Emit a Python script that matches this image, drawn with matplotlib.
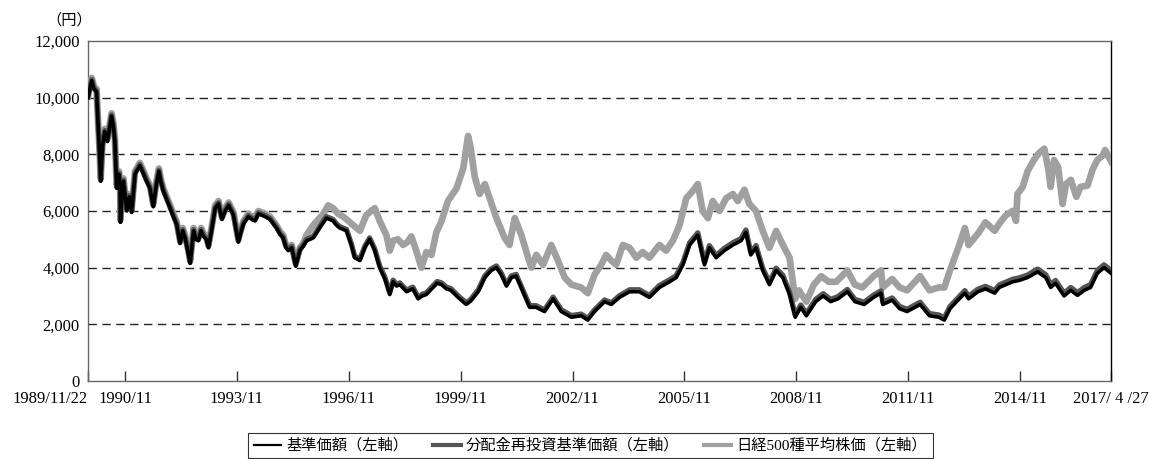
import matplotlib
matplotlib.use("Agg")
import matplotlib.pyplot as plt
from matplotlib.lines import Line2D

plt.rcParams['font.family'] = ['Liberation Serif', 'Noto Sans CJK JP']

# 基準価額 / 分配金再投資基準価額 (same dates, decimal years)
nav_years = [1989.89, 1989.99, 1990.05, 1990.12, 1990.16, 1990.20, 1990.23, 1990.28, 1990.34, 1990.41,
             1990.52, 1990.57, 1990.61, 1990.66, 1990.72, 1990.75, 1990.76, 1990.80, 1990.84, 1990.93,
             1991.00, 1991.06, 1991.15, 1991.28, 1991.38, 1991.46, 1991.55, 1991.60, 1991.64, 1991.72,
             1991.79, 1991.85, 1991.91, 1992.00, 1992.09, 1992.18, 1992.27, 1992.36, 1992.43, 1992.49,
             1992.55, 1992.63, 1992.72, 1992.78, 1992.85, 1992.92, 1992.99, 1993.06, 1993.12, 1993.20,
             1993.30, 1993.39, 1993.48, 1993.57, 1993.66, 1993.79, 1993.92, 1994.00, 1994.06, 1994.19,
             1994.28, 1994.37, 1994.46, 1994.55, 1994.64, 1994.77, 1994.94, 1995.05, 1995.12, 1995.20,
             1995.26, 1995.35, 1995.46, 1995.57, 1995.66, 1995.75, 1995.93, 1996.10, 1996.28, 1996.37,
             1996.46, 1996.55, 1996.64, 1996.82, 1996.95, 1997.04, 1997.18, 1997.31, 1997.44, 1997.58,
             1997.71, 1997.85, 1997.98, 1998.07, 1998.16, 1998.25, 1998.43, 1998.60, 1998.74, 1998.85,
             1998.96, 1999.14, 1999.25, 1999.37, 1999.50, 1999.62, 1999.81, 2000.03, 2000.15, 2000.35,
             2000.53, 2000.70, 2000.84, 2000.97, 2001.11, 2001.24, 2001.37, 2001.55, 2001.73, 2001.90,
             2002.13, 2002.36, 2002.58, 2002.85, 2003.11, 2003.29, 2003.47, 2003.74, 2003.92, 2004.14,
             2004.41, 2004.67, 2004.94, 2005.21, 2005.48, 2005.66, 2005.84, 2006.02, 2006.24, 2006.42,
             2006.55, 2006.73, 2006.95, 2007.18, 2007.40, 2007.53, 2007.66, 2007.80, 2007.98, 2008.16,
             2008.34, 2008.52, 2008.70, 2008.85, 2009.00, 2009.15, 2009.40, 2009.60, 2009.80, 2010.00,
             2010.25, 2010.45, 2010.70, 2010.95, 2011.15, 2011.20, 2011.45, 2011.65, 2011.85, 2012.20,
             2012.45, 2012.70, 2012.85, 2013.00, 2013.25, 2013.40, 2013.50, 2013.75, 2013.95, 2014.20,
             2014.32, 2014.50, 2014.68, 2014.86, 2015.08, 2015.35, 2015.57, 2015.70, 2015.83, 2016.06,
             2016.24, 2016.42, 2016.60, 2016.77, 2016.95, 2017.13, 2017.32]

nav = [10000, 10600, 10300, 10200, 9050, 8000, 7050, 8300, 8800, 8450,
       9350, 9000, 8450, 6800, 7300, 6900, 5600, 6500, 7050, 6000,
       6500, 5950, 7300, 7600, 7300, 7050, 6800, 6450, 6150, 6900,
       7400, 7000, 6700, 6400, 6100, 5800, 5500, 4850, 5300, 5050,
       4700, 4150, 5300, 5000, 4950, 5300, 5100, 5000, 4700, 5300,
       6100, 6250, 5700, 6000, 6200, 5850, 4900, 5300, 5550, 5800,
       5700, 5650, 5900, 5850, 5800, 5700, 5400, 5150, 5050, 4700,
       4600, 4700, 4050, 4600, 4750, 4950, 5050, 5400, 5750, 5700,
       5650, 5500, 5400, 5300, 4800, 4350, 4250, 4700, 5000, 4600,
       4000, 3600, 3050, 3500, 3350, 3400, 3150, 3250, 2900, 3000,
       3050, 3300, 3450, 3400, 3250, 3200, 2950, 2700, 2820, 3150,
       3650, 3900, 4000, 3750, 3350, 3650, 3700, 3150, 2600, 2600,
       2450, 2900, 2450, 2250, 2300, 2150, 2450, 2800, 2700, 2950,
       3150, 3150, 2950, 3300, 3500, 3650, 4100, 4800, 5150, 4100,
       4700, 4350, 4600, 4800, 4950, 5250, 4450, 4700, 3900, 3400,
       3900, 3650, 3050, 2250, 2600, 2300, 2800, 3000, 2800, 2900,
       3150, 2800, 2700, 2950, 3100, 2700, 2850, 2550, 2450, 2700,
       2300, 2250, 2150, 2550, 2900, 3100, 2900, 3150, 3250, 3100,
       3300, 3400, 3500, 3550, 3650, 3850, 3650, 3300, 3450, 3000,
       3200, 3020, 3200, 3300, 3800, 4000, 3800]

nav_reinvest = [10040, 10640, 10340, 10240, 9090, 8040, 7090, 8340, 8840, 8490,
                9390, 9040, 8490, 6840, 7340, 6940, 5640, 6540, 7090, 6040,
                6540, 5990, 7340, 7640, 7340, 7090, 6840, 6490, 6190, 6940,
                7440, 7040, 6740, 6440, 6140, 5840, 5540, 4890, 5340, 5090,
                4740, 4190, 5340, 5040, 4990, 5340, 5140, 5040, 4740, 5340,
                6140, 6290, 5740, 6040, 6240, 5890, 4940, 5340, 5590, 5840,
                5740, 5690, 5940, 5890, 5840, 5740, 5440, 5190, 5090, 4740,
                4650, 4750, 4100, 4650, 4800, 5000, 5100, 5450, 5800, 5750,
                5700, 5550, 5450, 5350, 4850, 4400, 4300, 4750, 5050, 4650,
                4060, 3660, 3110, 3560, 3410, 3460, 3210, 3310, 2960, 3060,
                3110, 3360, 3510, 3460, 3310, 3260, 3010, 2760, 2880, 3210,
                3710, 3960, 4060, 3810, 3410, 3710, 3760, 3210, 2660, 2660,
                2510, 2960, 2510, 2310, 2360, 2210, 2510, 2860, 2760, 3010,
                3220, 3220, 3020, 3370, 3570, 3720, 4180, 4880, 5230, 4180,
                4780, 4430, 4680, 4880, 5030, 5330, 4530, 4780, 3980, 3480,
                3980, 3730, 3130, 2330, 2680, 2380, 2880, 3080, 2880, 2980,
                3230, 2880, 2780, 3030, 3180, 2780, 2930, 2630, 2530, 2780,
                2380, 2330, 2230, 2630, 2980, 3190, 2990, 3240, 3340, 3190,
                3390, 3490, 3590, 3640, 3740, 3950, 3750, 3400, 3550, 3100,
                3300, 3120, 3300, 3400, 3900, 4100, 3900]

# 日経500種平均株価
n500_years = [1989.89, 1989.99, 1990.05, 1990.12, 1990.16, 1990.20, 1990.23, 1990.28, 1990.34, 1990.41,
              1990.52, 1990.57, 1990.61, 1990.66, 1990.72, 1990.75, 1990.76, 1990.80, 1990.84, 1990.93,
              1991.00, 1991.06, 1991.15, 1991.28, 1991.38, 1991.46, 1991.55, 1991.60, 1991.64, 1991.72,
              1991.79, 1991.85, 1991.91, 1992.00, 1992.09, 1992.18, 1992.27, 1992.36, 1992.43, 1992.49,
              1992.55, 1992.63, 1992.72, 1992.78, 1992.85, 1992.92, 1992.99, 1993.06, 1993.12, 1993.20,
              1993.30, 1993.39, 1993.48, 1993.57, 1993.66, 1993.79, 1993.92, 1994.00, 1994.06, 1994.19,
              1994.28, 1994.37, 1994.46, 1994.55, 1994.64, 1994.77, 1994.94, 1995.05, 1995.12, 1995.20,
              1995.26, 1995.35, 1995.46, 1995.57, 1995.66, 1995.75, 1995.93, 1996.10, 1996.20, 1996.33,
              1996.46, 1996.60, 1996.73, 1996.87, 1997.00, 1997.18, 1997.35, 1997.48, 1997.58, 1997.71,
              1997.89, 1997.98, 1998.07, 1998.20, 1998.34, 1998.45, 1998.56, 1998.69, 1998.83, 1998.96,
              1999.10, 1999.23, 1999.37, 1999.54, 1999.77, 1999.95, 2000.08, 2000.14, 2000.26, 2000.39,
              2000.53, 2000.66, 2000.84, 2001.06, 2001.19, 2001.33, 2001.51, 2001.69, 2001.78, 2001.91,
              2002.09, 2002.31, 2002.49, 2002.67, 2002.85, 2003.11, 2003.29, 2003.47, 2003.65, 2003.78,
              2003.92, 2004.05, 2004.23, 2004.41, 2004.59, 2004.76, 2004.94, 2005.21, 2005.39, 2005.57,
              2005.75, 2005.93, 2006.10, 2006.24, 2006.37, 2006.51, 2006.64, 2006.82, 2007.00, 2007.18,
              2007.31, 2007.49, 2007.62, 2007.80, 2007.98, 2008.16, 2008.34, 2008.52, 2008.70, 2008.85,
              2008.95, 2009.15, 2009.35, 2009.55, 2009.75, 2009.95, 2010.25, 2010.45, 2010.65, 2010.95,
              2011.15, 2011.20, 2011.45, 2011.65, 2011.85, 2012.20, 2012.45, 2012.70, 2012.85, 2013.00,
              2013.25, 2013.40, 2013.50, 2013.75, 2013.95, 2014.20, 2014.32, 2014.50, 2014.68, 2014.77,
              2014.81, 2014.95, 2015.08, 2015.25, 2015.39, 2015.53, 2015.64, 2015.70, 2015.79, 2015.90,
              2016.02, 2016.11, 2016.24, 2016.39, 2016.50, 2016.69, 2016.82, 2016.95, 2017.09, 2017.16,
              2017.32]

n500 = [10050, 10700, 10400, 10300, 9150, 8100, 7150, 8400, 8900, 8550,
        9450, 9100, 8550, 6900, 7400, 7000, 5700, 6600, 7150, 6100,
        6600, 6050, 7400, 7700, 7400, 7150, 6900, 6550, 6250, 7000,
        7500, 7100, 6800, 6500, 6200, 5900, 5600, 4950, 5400, 5150,
        4800, 4250, 5400, 5100, 5050, 5400, 5200, 5100, 4800, 5400,
        6200, 6350, 5800, 6100, 6300, 5950, 5000, 5400, 5650, 5900,
        5800, 5800, 6000, 5950, 5900, 5800, 5500, 5250, 5150, 4800,
        4700, 4800, 4150, 4700, 4850, 5150, 5500, 5750, 5900, 6200,
        6100, 5900, 5800, 5650, 5500, 5300, 5850, 6000, 6100, 5650,
        5150, 4600, 4950, 5000, 4800, 4900, 5100, 4600, 4000, 4550,
        4450, 5250, 5650, 6350, 6800, 7500, 8650, 8300, 7200, 6600,
        6950, 6450, 5750, 5050, 4800, 5750, 5150, 4350, 4000, 4450,
        4100, 4800, 4250, 3650, 3400, 3300, 3100, 3750, 4100, 4450,
        4250, 4100, 4800, 4700, 4350, 4550, 4350, 4800, 4600, 4950,
        5500, 6450, 6700, 6950, 6000, 5750, 6350, 6000, 6450, 6600,
        6350, 6750, 6250, 6000, 5300, 4700, 5300, 4800, 4350, 2900,
        3200, 2800, 3400, 3700, 3500, 3500, 3900, 3400, 3300, 3700,
        3900, 3300, 3600, 3300, 3200, 3700, 3200, 3300, 3300, 3900,
        4800, 5400, 4800, 5200, 5600, 5300, 5550, 5850, 6000, 5650,
        6600, 6850, 7400, 7800, 8050, 8200, 7450, 6850, 7800, 7550,
        6250, 6950, 7100, 6500, 6850, 6900, 7450, 7800, 7950, 8150,
        7750]

tick_years = [1989.89, 1990.88, 1993.88, 1996.88, 1999.88, 2002.88, 2005.88, 2008.88, 2011.88, 2014.88, 2017.32]
tick_labels = ["1989/11/22", "1990/11", "1993/11", "1996/11", "1999/11", "2002/11",
               "2005/11", "2008/11", "2011/11", "2014/11", "2017/ 4 /27"]

fig = plt.figure(figsize=(11.49, 4.59), dpi=100)
ax = fig.add_axes([0.0766, 0.170, 0.8904, 0.7407])

ax.plot(n500_years, n500, color="#a0a0a0", lw=4.8, zorder=3)
ax.plot(nav_years, nav_reinvest, color="#555555", lw=3.8, zorder=4)
ax.plot(nav_years, nav, color="black", lw=2.6, zorder=5)

ax.set_xlim(1989.89, 2017.32)
ax.set_ylim(0, 12000)
ax.set_yticks(range(0, 12001, 2000))
ax.set_yticklabels([f"{v:,}" for v in range(0, 12001, 2000)], fontsize=12)
for v in range(2000, 12000, 2000):
    ax.axhline(v, color="#222222", lw=1.0, ls=(0, (6, 4)), zorder=1)

ax.set_xticks(tick_years)
ax.set_xticklabels(tick_labels, fontsize=12)
ax.tick_params(axis="x", direction="in", length=7, width=1, color="#333333", pad=7)
ax.tick_params(axis="y", length=0, pad=6)
xt = ax.get_xticklabels()
xt[0].set_horizontalalignment("right")
xt[0].set_x(1989.95)

for s in ["left", "bottom", "top"]:
    ax.spines[s].set_color("#666666")
ax.spines["right"].set_color("black")
for s in ax.spines.values():
    s.set_linewidth(1.0)

fig.text(0.040, 0.955, "（円）", fontsize=11, ha="left", va="center")

handles = [Line2D([], [], color="black", lw=1.6),
           Line2D([], [], color="#555555", lw=3.0),
           Line2D([], [], color="#a0a0a0", lw=3.0)]
labels = ["基準価額（左軸）", "分配金再投資基準価額（左軸）", "日経500種平均株価（左軸）"]
leg = fig.legend(handles, labels, loc="upper center", bbox_to_anchor=(0.514, 0.0566), ncol=3,
                 fontsize=11, frameon=True, fancybox=False, edgecolor="black", borderaxespad=0,
                 handlelength=1.8, handletextpad=0.35, columnspacing=1.6, borderpad=0.35)
leg.get_frame().set_linewidth(0.8)

fig.savefig("out.png", dpi=100)
